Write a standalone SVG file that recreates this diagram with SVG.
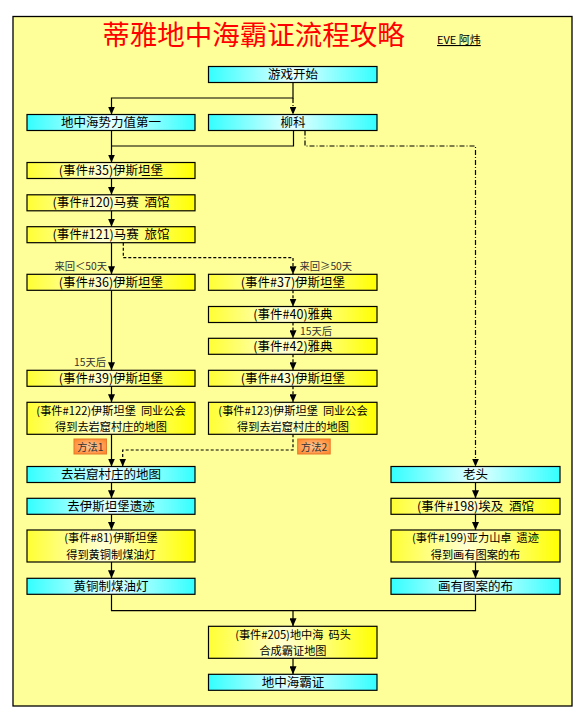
<svg xmlns="http://www.w3.org/2000/svg" width="586" height="723" viewBox="0 0 586 723">
<defs>
<linearGradient id="gy" x1="0" y1="0" x2="1" y2="0">
<stop offset="0" stop-color="#ffff33"/>
<stop offset="0.45" stop-color="#ffffd2"/>
<stop offset="1" stop-color="#ffff00"/>
</linearGradient>
<linearGradient id="gc" x1="0" y1="0" x2="1" y2="0">
<stop offset="0" stop-color="#33ffff"/>
<stop offset="0.5" stop-color="#e6ffff"/>
<stop offset="1" stop-color="#33ffff"/>
</linearGradient>
<radialGradient id="go" cx="0.5" cy="0.5" r="0.6">
<stop offset="0" stop-color="#ffc89a"/>
<stop offset="1" stop-color="#ff8a30"/>
</radialGradient>
<marker id="ah" viewBox="0 0 8 7" refX="8" refY="3.5" markerWidth="8" markerHeight="7" markerUnits="userSpaceOnUse" orient="auto">
<path d="M0,0 L8,3.5 L0,7 z" fill="#000" stroke="none"/>
</marker>
<style>
.y{fill:url(#gy);stroke:#000;stroke-width:1.2}
.c{fill:url(#gc);stroke:#000;stroke-width:1.2}
.t{font-family:"Noto Sans CJK SC","Liberation Sans",sans-serif;font-size:12.5px;fill:#000;text-anchor:middle;white-space:pre}
.t2{font-family:"Noto Sans CJK SC","Liberation Sans",sans-serif;font-size:11.2px;fill:#000;text-anchor:middle;white-space:pre}
.l{font-family:"Noto Sans CJK SC","Liberation Sans",sans-serif;font-size:10.3px;fill:#333}
.s{fill:none;stroke:#000;stroke-width:1.2}
.d{fill:none;stroke:#000;stroke-width:1.2;stroke-dasharray:3,2}
.dd{fill:none;stroke:#000;stroke-width:1.2;stroke-dasharray:5,2,1,2}
.m{fill:url(#go);stroke:#e8782a;stroke-width:1}
</style>
</defs>
<rect x="13" y="16.5" width="559" height="689.5" fill="#ffff99" stroke="#000" stroke-width="1.3"/>
<g id="title">
<text x="253.5" y="44.5" font-family="Noto Sans CJK SC,sans-serif" font-size="27.5" fill="#ff0000" text-anchor="middle">蒂雅地中海霸证流程攻略</text>
<text x="437" y="44" font-family="Noto Sans CJK SC,sans-serif" font-size="11" fill="#000" text-decoration="underline">EVE 阿炜</text>
</g>
<g id="connectors">
<path class="s" d="M293,82.5 V98 H111.5 V114.5" marker-end="url(#ah)"/>
<path class="dd" d="M293,98 V114.5" marker-end="url(#ah)"/>
<path class="s" d="M111.5,130.5 V162.5" marker-end="url(#ah)"/>
<path class="s" d="M293.5,130.5 V146 H111.5"/>
<path class="dd" d="M305,130.5 V146 H475.5 V466.5" marker-end="url(#ah)"/>
<path class="s" d="M111.5,178.5 V194.8" marker-end="url(#ah)"/>
<path class="s" d="M111.5,210.8 V226.7" marker-end="url(#ah)"/>
<path class="s" d="M111.5,242.7 V274.3" marker-end="url(#ah)"/>
<path class="d" d="M123.3,242.7 V257.7 H293 V274.3" marker-end="url(#ah)"/>
<path class="s" d="M111.5,290.3 V370.3" marker-end="url(#ah)"/>
<path class="d" d="M293,290.3 V306.5" marker-end="url(#ah)"/>
<path class="d" d="M293,322.5 V338.3" marker-end="url(#ah)"/>
<path class="d" d="M293,354.3 V370.3" marker-end="url(#ah)"/>
<path class="d" d="M293,386.3 V402.3" marker-end="url(#ah)"/>
<path class="s" d="M111.5,386.3 V402.3" marker-end="url(#ah)"/>
<path class="s" d="M111.5,434.3 V466.5" marker-end="url(#ah)"/>
<path class="d" d="M293,434.3 V450 H122.7 V466.5" marker-end="url(#ah)"/>
<path class="s" d="M111.5,482.5 V498.3" marker-end="url(#ah)"/>
<path class="s" d="M111.5,514.3 V530" marker-end="url(#ah)"/>
<path class="s" d="M111.5,562 V578.3" marker-end="url(#ah)"/>
<path class="s" d="M475.5,482.5 V498.3" marker-end="url(#ah)"/>
<path class="s" d="M475.5,514.3 V530" marker-end="url(#ah)"/>
<path class="s" d="M475.5,562 V578.3" marker-end="url(#ah)"/>
<path class="s" d="M111.5,594.3 V610.7 H475.5 V594.3"/>
<path class="s" d="M293,610.7 V626.3" marker-end="url(#ah)"/>
<path class="s" d="M293,658.3 V674.3" marker-end="url(#ah)"/>
<text class="l" x="107" y="269.8" text-anchor="end">来回＜50天</text>
<text class="l" x="299.5" y="269.8">来回≥50天</text>
<text class="l" x="300" y="334.6">15天后</text>
<text class="l" x="106" y="365.5" text-anchor="end">15天后</text>
<g id="label-m1"><rect class="m" x="74" y="439" width="32.5" height="15"/><text class="l" x="90.3" y="450.5" text-anchor="middle" font-size="11.5">方法1</text></g>
<g id="label-m2"><rect class="m" x="297.7" y="439" width="32.5" height="15"/><text class="l" x="314" y="450.5" text-anchor="middle" font-size="11.5">方法2</text></g>
</g>
<g id="n-start"><rect class="c" x="208.5" y="66.5" width="168.5" height="16"/><text class="t" x="293" y="79.1">游戏开始</text></g>
<g id="n-dzh"><rect class="c" x="27" y="114.5" width="168" height="16"/><text class="t" x="111" y="127.1">地中海势力值第一</text></g>
<g id="n-liuke"><rect class="c" x="208.5" y="114.5" width="168.5" height="16"/><text class="t" x="293" y="127.1">柳科</text></g>
<g id="n-e35"><rect class="y" x="27" y="162.5" width="168" height="16"/><text class="t" x="111" y="175.1">(事件#35)伊斯坦堡</text></g>
<g id="n-e120"><rect class="y" x="27" y="194.8" width="168" height="16"/><text class="t" x="111" y="207.4" xml:space="preserve">(事件#120)马赛  酒馆</text></g>
<g id="n-e121"><rect class="y" x="27" y="226.7" width="168" height="16"/><text class="t" x="111" y="239.3" xml:space="preserve">(事件#121)马赛  旅馆</text></g>
<g id="n-e36"><rect class="y" x="27" y="274.3" width="168" height="16"/><text class="t" x="111" y="287.1">(事件#36)伊斯坦堡</text></g>
<g id="n-e37"><rect class="y" x="208.5" y="274.3" width="168.5" height="16"/><text class="t" x="293" y="287.1">(事件#37)伊斯坦堡</text></g>
<g id="n-e40"><rect class="y" x="208.5" y="306.5" width="168.5" height="16"/><text class="t" x="293" y="318.9">(事件#40)雅典</text></g>
<g id="n-e42"><rect class="y" x="208.5" y="338.3" width="168.5" height="16"/><text class="t" x="293" y="351.4">(事件#42)雅典</text></g>
<g id="n-e39"><rect class="y" x="27" y="370.3" width="168" height="16"/><text class="t" x="111" y="382.9">(事件#39)伊斯坦堡</text></g>
<g id="n-e43"><rect class="y" x="208.5" y="370.3" width="168.5" height="16"/><text class="t" x="293" y="382.9">(事件#43)伊斯坦堡</text></g>
<g id="n-e122"><rect class="y" x="27" y="402.3" width="168" height="32"/><text class="t2" xml:space="preserve"><tspan x="111" y="414.7">(事件#122)伊斯坦堡  同业公会</tspan><tspan x="111" y="431">得到去岩窟村庄的地图</tspan></text></g>
<g id="n-e123"><rect class="y" x="208.5" y="402.3" width="168.5" height="32"/><text class="t2" xml:space="preserve"><tspan x="293" y="414.7">(事件#123)伊斯坦堡  同业公会</tspan><tspan x="293" y="431">得到去岩窟村庄的地图</tspan></text></g>
<g id="n-map"><rect class="c" x="27" y="466.5" width="168" height="16"/><text class="t" x="111" y="479.1">去岩窟村庄的地图</text></g>
<g id="n-ruins"><rect class="c" x="27" y="498.3" width="168" height="16"/><text class="t" x="111" y="510.9">去伊斯坦堡遗迹</text></g>
<g id="n-e81"><rect class="y" x="27" y="530" width="168" height="32"/><text class="t2"><tspan x="111" y="542.4">(事件#81)伊斯坦堡</tspan><tspan x="111" y="558.7">得到黄铜制煤油灯</tspan></text></g>
<g id="n-lamp"><rect class="c" x="27" y="578.3" width="168" height="16"/><text class="t" x="111" y="590.9">黄铜制煤油灯</text></g>
<g id="n-old"><rect class="c" x="391" y="466.5" width="169" height="16"/><text class="t" x="475.5" y="479.1">老头</text></g>
<g id="n-e198"><rect class="y" x="391" y="498.3" width="169" height="16"/><text class="t" x="475.5" y="510.9" xml:space="preserve">(事件#198)埃及  酒馆</text></g>
<g id="n-e199"><rect class="y" x="391" y="530" width="169" height="32"/><text class="t2" xml:space="preserve"><tspan x="475.5" y="542.4">(事件#199)亚力山卓  遗迹</tspan><tspan x="475.5" y="558.7">得到画有图案的布</tspan></text></g>
<g id="n-cloth"><rect class="c" x="391" y="578.3" width="169" height="16"/><text class="t" x="475.5" y="590.9">画有图案的布</text></g>
<g id="n-e205"><rect class="y" x="208.5" y="626.3" width="168.5" height="32"/><text class="t2" xml:space="preserve"><tspan x="293" y="638.7">(事件#205)地中海  码头</tspan><tspan x="293" y="655">合成霸证地图</tspan></text></g>
<g id="n-end"><rect class="c" x="208.5" y="674.3" width="168.5" height="16"/><text class="t" x="293" y="686.9">地中海霸证</text></g>
</svg>
